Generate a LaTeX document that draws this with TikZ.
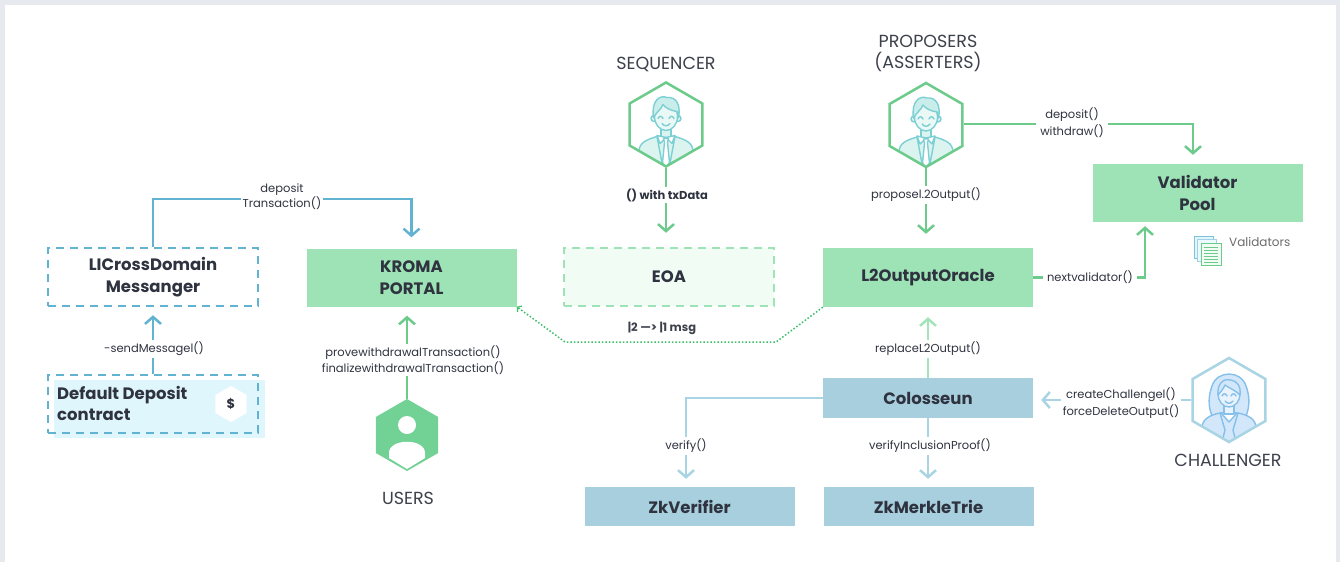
\documentclass[tikz,border=0pt]{standalone}
\usepackage{fontspec}
\setmainfont{Poppins}
\usetikzlibrary{arrows.meta,shapes.geometric,calc}

\definecolor{framegray}{HTML}{E6EAEE}
\definecolor{ink}{HTML}{2F3340}
\definecolor{softink}{HTML}{3D414B}
\definecolor{boxgreen}{HTML}{9DE3B5}
\definecolor{paleGreen}{HTML}{F1FCF4}
\definecolor{boxblue}{HTML}{A8CFDE}
\definecolor{paleCyan}{HTML}{DFF6FD}
\definecolor{lineblue}{HTML}{62B2D2}
\definecolor{lightblue}{HTML}{A8D4E4}
\definecolor{linegreen}{HTML}{6CCB8B}
\definecolor{lightgreen}{HTML}{A3E4BA}
\definecolor{dotgreen}{HTML}{3CBF69}
\definecolor{usergreen}{HTML}{72D195}
\definecolor{teal}{HTML}{7CCFD3}
\definecolor{tealfill}{HTML}{DCF4F0}
\definecolor{girlblue}{HTML}{86BFEA}
\definecolor{girlfill}{HTML}{D3E7FB}

\newcommand{\hexclip}[2]{\clip ($(#1)+(90:#2)$) -- ($(#1)+(30:#2)$) -- ($(#1)+(-30:#2)$) -- ($(#1)+(-90:#2)$) -- ($(#1)+(-150:#2)$) -- ($(#1)+(150:#2)$) -- cycle;}

\tikzset{
  box/.style={rectangle, minimum width=210pt, minimum height=58pt, inner sep=0pt,
    font=\fontsize{16.5}{22}\selectfont\bfseries, text=ink, align=center},
  greenbox/.style={box, fill=boxgreen},
  bluebox/.style={box, fill=boxblue, minimum height=40pt},
  dashbox/.style={box, line width=2.5pt, dash pattern=on 8pt off 6pt},
  lbl/.style={font=\fontsize{11.5}{15.5}\selectfont, text=ink, fill=white, inner sep=2pt, align=center},
  boldlbl/.style={lbl, font=\fontsize{11.5}{15}\selectfont\bfseries},
  actor/.style={font=\fontsize{17.5}{21}\selectfont, text=softink, align=center},
  hexa/.style={regular polygon, regular polygon sides=6, shape border rotate=30,
    minimum size=84pt, inner sep=0pt},
  flow/.style={line width=2.5pt, -{Straight Barb[length=7pt,width=16pt]}},
  iconline/.style={line width=1.4pt, line join=round, line cap=round},
}

\begin{document}
\begin{tikzpicture}[x=1pt,y=-1pt]
\useasboundingbox (0,0) rectangle (1340,562);
\fill[framegray] (0,0) rectangle (1340,562);
\fill[white] (5,5) rectangle (1336,562);

% ---------- boxes ----------
\node[dashbox, draw=lineblue, fill=white] (licdm) at (153,277) {LICrossDomain\\Messanger};
\fill[paleCyan] (54,380) rectangle (265,438);
\node[dashbox, draw=lineblue] (ddc) at (153,404) {};
\node[font=\fontsize{16.5}{21}\selectfont\bfseries, text=ink, align=left, anchor=west, inner sep=0pt]
  (ddctext) at (57,403) {Default Deposit\\contract};
\node[regular polygon, regular polygon sides=6, shape border rotate=30, minimum size=36pt,
  inner sep=0pt, fill=white, font=\fontsize{13}{13}\selectfont\bfseries, text=ink] (dollar) at (231,404) {\$};

\node[greenbox] (kroma) at (411.5,277.5) {KROMA\\PORTAL};
\node[dashbox, draw=boxgreen, fill=paleGreen] (eoa) at (669,277) {EOA};
\node[greenbox, minimum height=59pt] (l2oo) at (928,277.5) {L2OutputOracle};
\node[greenbox] (vpool) at (1197.5,193) {Validator\\Pool};
\node[bluebox] (colo) at (928,398) {Colosseun};
\node[bluebox, minimum height=39pt] (zkv) at (689.5,506.5) {ZkVerifier};
\node[bluebox, minimum height=39pt] (zkm) at (928.5,506.5) {ZkMerkleTrie};

% ---------- actors ----------
% users
\node[hexa, minimum size=72pt, fill=usergreen] (users) at (407,435) {};
\fill[white] (users.center) ++(0,-10) circle (9);
\fill[white] (389,458) -- (389,453) .. controls (389,438) and (425,438) .. (425,453) -- (425,458) -- (407,469) -- cycle;
\node[actor] (userslbl) at (408,498) {USERS};

% sequencer and proposer (same figure)
\foreach \who/\cx/\cy in {seq/666/124.5, prop/926/125}{
  \begin{scope}
    \hexclip{\cx,\cy}{42}
    \begin{scope}[shift={(\cx,\cy)}]
      \filldraw[iconline, draw=teal, fill=tealfill] (-27,46) -- (-27,27) .. controls (-27,18) and (-19,15) .. (-9,12) -- (9,12) .. controls (19,15) and (27,18) .. (27,27) -- (27,46) -- cycle;
      \filldraw[iconline, draw=teal, fill=tealfill] (-5,2) rectangle (5,13);
      \filldraw[iconline, draw=teal, fill=white] (0,13) -- (-9,11) -- (-6,19) -- cycle;
      \filldraw[iconline, draw=teal, fill=white] (0,13) -- (9,11) -- (6,19) -- cycle;
      \filldraw[iconline, draw=teal, fill=white] (-2.5,14) -- (2.5,14) -- (1.5,18) -- (3.5,38) -- (0,43) -- (-3.5,38) -- (-1.5,18) -- cycle;
      \draw[iconline, draw=teal] (-9,12) -- (-3,44) (9,12) -- (3,44);
      \filldraw[iconline, draw=teal, fill=tealfill] (-12,-6) circle (3) (12,-6) circle (3);
      \filldraw[iconline, draw=teal, fill=tealfill!60!white] (0,-8) ellipse (11.5 and 14);
      \filldraw[iconline, draw=teal, fill=tealfill!80!teal] (-12.5,-7) .. controls (-15,-24) and (-6,-30) .. (1,-27) .. controls (10,-28) and (15,-20) .. (12.5,-7) -- (11,-13) .. controls (5,-14) and (0,-16) .. (-3,-20) .. controls (-5,-15) and (-9,-13) .. (-12.5,-7) -- cycle;
      \draw[iconline, draw=teal] (-8,-6) .. controls (-6.5,-9) and (-4.5,-9) .. (-3,-6);
      \draw[iconline, draw=teal] (3,-6) .. controls (4.5,-9) and (6.5,-9) .. (8,-6);
      \draw[iconline, draw=teal] (-4,-1) .. controls (-2,2) and (2,2) .. (4,-1);
    \end{scope}
  \end{scope}
  \node[hexa, draw=linegreen, line width=2.5pt] (\who) at (\cx,\cy) {};
}
\node[actor] (seqlbl) at (666,64) {SEQUENCER};
\node[actor] (proplbl) at (928,53) {PROPOSERS\\(ASSERTERS)};

% challenger
\begin{scope}
  \hexclip{1229,400}{42}
  \begin{scope}[shift={(1229,400)}]
    \filldraw[iconline, draw=girlblue, fill=girlfill] (-16,18) .. controls (-22,6) and (-20,-6) .. (-17,-14) .. controls (-12,-30) and (12,-30) .. (17,-14) .. controls (20,-6) and (22,6) .. (16,18) -- cycle;
    \filldraw[iconline, draw=girlblue, fill=girlfill] (-27,46) -- (-27,28) .. controls (-27,19) and (-19,15) .. (-9,13) -- (9,13) .. controls (19,15) and (27,19) .. (27,28) -- (27,46) -- cycle;
    \filldraw[iconline, draw=girlblue, fill=white] (-8,13) -- (0,22) -- (8,13) -- cycle;
    \draw[iconline, draw=girlblue] (-9,13) -- (-4,30) -- (-8,46) (9,13) -- (4,30) -- (8,46);
    \filldraw[iconline, draw=girlblue, fill=girlfill!50!white] (-5,3) rectangle (5,14);
    \filldraw[iconline, draw=girlblue, fill=girlfill!50!white] (0,-6) ellipse (11 and 13);
    \filldraw[iconline, draw=girlblue, fill=girlfill] (-11,-5) .. controls (-12,-18) and (-4,-22) .. (2,-20) .. controls (8,-19) and (12,-14) .. (11,-5) .. controls (6,-10) and (0,-12) .. (-4,-15) .. controls (-6,-10) and (-9,-8) .. (-11,-5) -- cycle;
    \draw[iconline, draw=girlblue] (-7,-4) .. controls (-5.5,-7) and (-3.5,-7) .. (-2,-4);
    \draw[iconline, draw=girlblue] (2,-4) .. controls (3.5,-7) and (5.5,-7) .. (7,-4);
    \draw[iconline, draw=girlblue] (-4,1) .. controls (-2,4) and (2,4) .. (4,1);
  \end{scope}
\end{scope}
\node[hexa, draw=lightblue, line width=2.5pt] (chal) at (1229,400) {};
\node[actor] (challbl) at (1228,460) {CHALLENGER};

% validators list icon
\filldraw[line width=1pt, draw=lineblue!80, fill=paleCyan] (1194,236) rectangle (1213,258);
\filldraw[line width=1pt, draw=lineblue!60, fill=paleCyan!60!white] (1197,239) rectangle (1216,261);
\filldraw[line width=1pt, draw=linegreen, fill=paleGreen] (1201,243) rectangle (1221,265);
\foreach \yy in {247,250,...,262} \draw[line width=1pt, linegreen] (1204,\yy) -- (1218,\yy);
\node[font=\fontsize{12}{14}\selectfont, text=gray!85!black, anchor=west, inner sep=0pt] (vallbl) at (1229,242) {Validators};

% ---------- connectors ----------
\coordinate (dtbend) at (282,199);
\draw[flow, lineblue, shorten >=11pt] (licdm.north) |- (dtbend) -| (kroma.north);
\node[lbl, font=\fontsize{11.5}{12}\selectfont] (dtlbl) at (282,197) {deposit\\Transaction()};

\draw[flow, lineblue, shorten >=8pt] (ddc.north) -- (licdm.south);
\node[lbl] (smlbl) at (154,349) {-sendMessagel()};

\draw[flow, linegreen, shorten >=9pt] (users.north) -- (users.north |- kroma.south);
\node[lbl] (uslbl) at (413,360) {provewithdrawalTransaction()\\finalizewithdrawalTransaction()};

\draw[flow, linegreen, shorten >=14pt] (seq.south) -- (seq.south |- eoa.north);
\node[boldlbl] (seqflow) at (667,195) {() with txData};

\draw[flow, linegreen, shorten >=14pt] (prop.south) -- (prop.south |- l2oo.north);
\node[lbl] (propflow) at (926,195) {proposel.2Output()};

\coordinate (dwbend) at (1193,124);
\draw[flow, linegreen, shorten >=9pt] (prop.east |- dwbend) -- (dwbend) -- (dwbend |- vpool.north);
\node[lbl, inner sep=4pt, font=\fontsize{11.5}{17}\selectfont] (dwlbl) at (1072,123) {deposit()\\withdraw()};

\coordinate (nvbend) at (1145,277.5);
\draw[flow, linegreen, shorten >=4pt] (l2oo.east) -- (nvbend) -- (nvbend |- vpool.south);
\node[lbl, inner sep=4pt] (nvlbl) at (1090,277) {nextvalidator()};

\coordinate (dotR) at (776,342);
\coordinate (dotL) at (565,342);
\draw[dotgreen, line width=1.5pt, dash pattern=on 1.5pt off 2pt,
  -{Straight Barb[length=3pt,width=7pt,line width=1.2pt]}]
  (l2oo.south west) -- (dotR) -- (dotL) -- (kroma.south east);
\node[boldlbl, fill=none, text=softink] (msglbl) at (662,328) {|2 —> |1 msg};

\draw[flow, lightgreen, shorten >=10pt] (colo.north) -- (colo.north |- l2oo.south);
\node[lbl] (rplbl) at (928,349) {replaceL2Output()};

\draw[flow, lightblue, shorten >=8pt] (chal.west) -- (chal.west -| colo.east);
\node[lbl, font=\fontsize{11.5}{17}\selectfont] (chlbl) at (1121,403) {createChallengel()\\forceDeleteOutput()};

\coordinate (vbend) at (686,398);
\draw[flow, lightblue, shorten >=8pt] (colo.west) -- (vbend) -- (vbend |- zkv.north);
\node[lbl] (vflbl) at (686,446) {verify()};

\draw[flow, lightblue, shorten >=8pt] (colo.south) -- (colo.south |- zkm.north);
\node[lbl] (viplbl) at (930,446) {verifyInclusionProof()};
\end{tikzpicture}
\end{document}
